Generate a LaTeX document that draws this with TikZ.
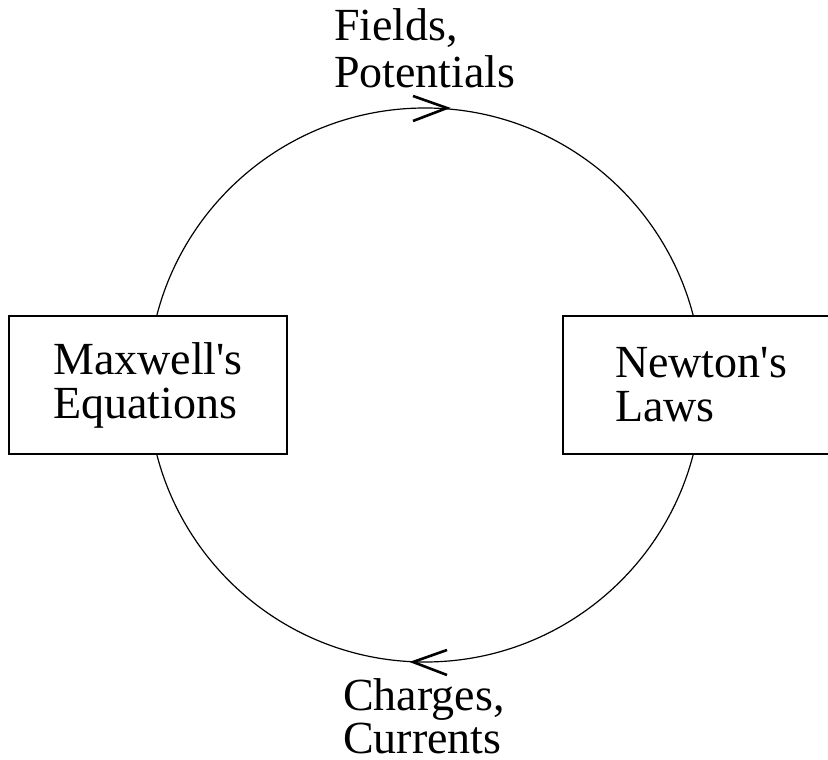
\documentclass[tikz,border=0pt]{standalone}
\usepackage{fontspec}
\setmainfont{Liberation Serif}
\begin{document}
\begin{tikzpicture}[x=1pt,y=-1pt,
  every node/.style={font=\fontsize{46}{44}\selectfont},
  lawbox/.style={draw,line width=1.4pt,fill=white,rectangle,align=left,inner sep=0pt,minimum height=138pt},
  lbl/.style={align=left,inner sep=0pt,anchor=north west},
  barb/.style={line width=2.6pt,line cap=butt,line join=miter}]
\useasboundingbox (0,0) rectangle (828,760);
\coordinate (c) at (425,385);
\draw[line width=1.2pt] (c) circle[radius=277pt];
\node[lawbox,minimum width=278pt] (max) at (148,385) {Maxwell\textquotesingle s\\Equations};
\node[lawbox,minimum width=276pt] (new) at (701,385) {Newton\textquotesingle s\\Laws};
\node[lbl,font=\fontsize{46}{47}\selectfont] (fields) at (334,8) {Fields,\\Potentials};
\node[lbl,font=\fontsize{46}{43}\selectfont] (charges) at (343,678) {Charges,\\Currents};
\coordinate (tt) at (447,108);
\coordinate (bt) at (413,662);
\draw[barb] (413,96) -- (tt) -- (413,121);
\draw[barb] (447,650) -- (bt) -- (447,675);
\end{tikzpicture}
\end{document}
